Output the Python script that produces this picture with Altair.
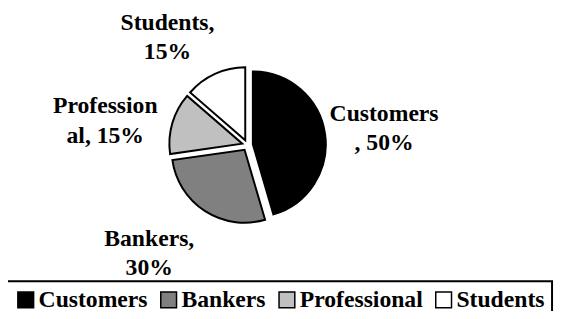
import math
import altair as alt
import pandas as pd

categories = ["Customers", "Bankers", "Professional", "Students"]
values = [50, 30, 15, 15]
labels = ["Customers\n, 50%", "Bankers,\n30%", "Profession\nal, 15%", "Students,\n15%"]
colors = ["#000000", "#808080", "#c0c0c0", "#ffffff"]

df = pd.DataFrame({
    "category": categories,
    "value": values,
    "label": labels,
    "idx": list(range(len(categories))),
})
total = sum(values)

FONT = "'Liberation Serif', 'Times New Roman', Times, serif"
CX, CY = 243, 137
R = 74
EXPLODE = 5.5
theta_scale = alt.Scale(domain=[0, total], range=[0, 2 * math.pi])

base = alt.Chart(df).transform_window(
    cum="sum(value)", sort=[alt.SortField("idx")], frame=[None, 0]
).transform_calculate(
    mid="datum.cum - datum.value / 2",
    ang=f"(datum.cum - datum.value / 2) / {total} * 2 * PI",
).transform_calculate(
    px=f"{CX} + {EXPLODE} * sin(datum.ang)",
    py=f"{CY} - {EXPLODE} * cos(datum.ang)",
)

pie = base.mark_arc(
    outerRadius=R, stroke="black", strokeWidth=2, strokeJoin="miter"
).encode(
    theta=alt.Theta("value:Q", stack=True, scale=theta_scale),
    order=alt.Order("idx:Q"),
    x=alt.X("px:Q", scale=None, axis=None),
    y=alt.Y("py:Q", scale=None, axis=None),
    color=alt.Color(
        "category:N",
        sort=categories,
        scale=alt.Scale(domain=categories, range=colors),
        legend=alt.Legend(
            title=None,
            orient="none",
            legendX=-1,
            legendY=275,
            direction="horizontal",
            symbolType="square",
            symbolSize=256,
            symbolStrokeColor="black",
            symbolStrokeWidth=1.5,
            symbolOpacity=1,
            labelFont=FONT,
            labelFontSize=24,
            labelFontWeight="bold",
            labelColor="black",
            labelOffset=1,
            labelLimit=300,
            columnPadding=9,
            padding=7,
            strokeColor="black",
        ),
    ),
)

offsets = {
    "Customers": (0, -12),
    "Bankers": (-24, -23),
    "Professional": (-10, 0),
    "Students": (-23, 3),
}

layers = [pie]
for cat in categories:
    dx, dy = offsets[cat]
    t = base.transform_filter(
        alt.datum.category == cat
    ).mark_text(
        radius=140, font=FONT, fontWeight="bold", fontSize=24, lineHeight=30,
        lineBreak="\n", align="center", baseline="middle", color="black", dx=dx, dy=dy,
    ).encode(
        theta=alt.Theta("mid:Q", scale=theta_scale, stack=None),
        text="label:N",
        x=alt.value(CX),
        y=alt.value(CY),
    )
    layers.append(t)

chart = alt.layer(*layers).properties(
    width=555, height=303, autosize="none",
    padding={"left": 0, "top": 0, "right": 0, "bottom": 0},
).configure_view(stroke=None).configure_legend(strokeWidth=2)

chart.save("out.html", embed_options={"renderer": "svg", "actions": False})
